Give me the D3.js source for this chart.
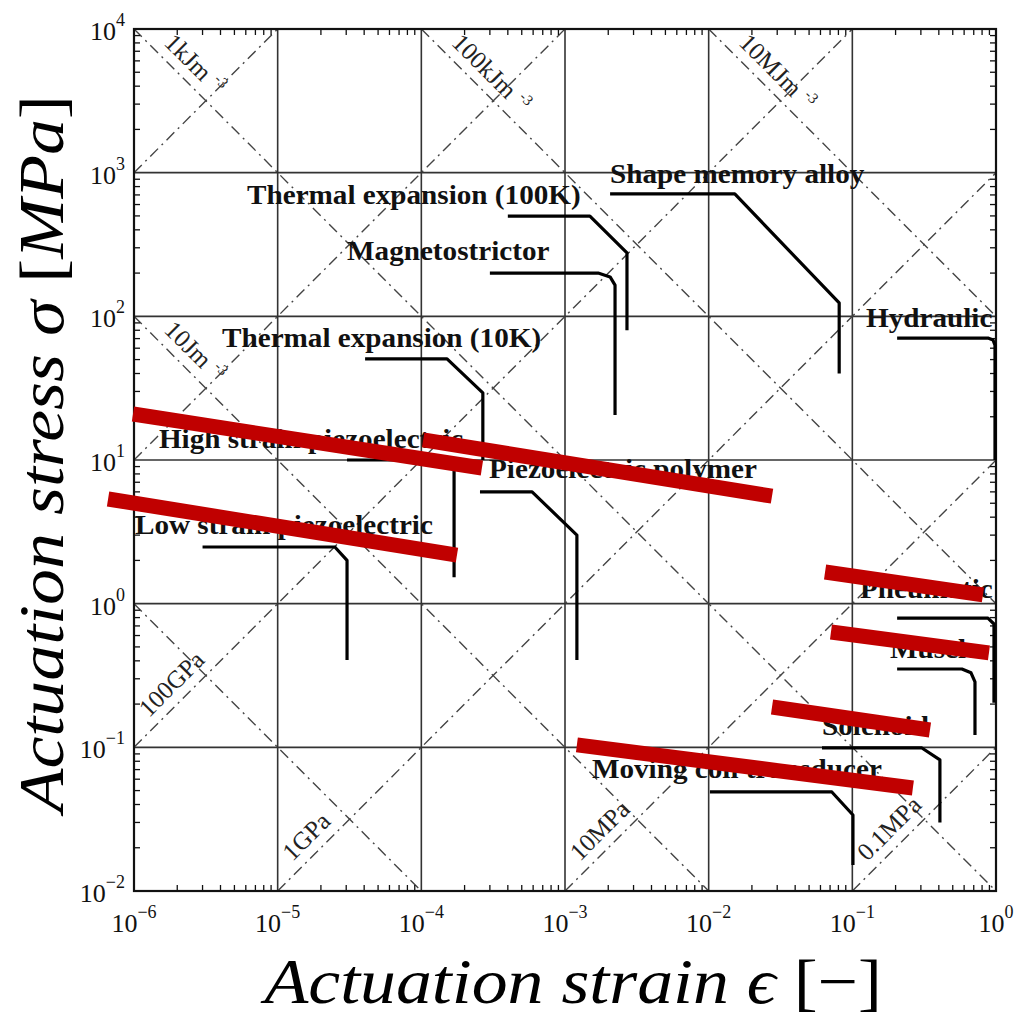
<!DOCTYPE html>
<html><head><meta charset="utf-8">
<script src="https://cdn.jsdelivr.net/npm/d3@7/dist/d3.min.js"></script>
<style>body{margin:0;background:#fff}svg{display:block}</style>
</head><body>
<svg id="chart" width="1015" height="1022"></svg>
<script>
// ---------- data ----------
const xDomain = [1e-6, 1];
const yDomain = [1e-2, 1e4];
const xTickExponents = [-6, -5, -4, -3, -2, -1, 0];
const yTickExponents = [-2, -1, 0, 1, 2, 3, 4];

const actuatorNames = [
  "Thermal expansion (100K)", "Shape memory alloy", "Magnetostrictor", "Hydraulic",
  "Thermal expansion (10K)", "High strain piezoelectric", "Low strain piezoelectric",
  "Piezoelectric polymer", "Pneumatic", "Muscle", "Solenoid", "Moving coil transducer"
];
// each curve: [strain, stress(MPa)]
const actuatorCurves = [
  [[4.0e-4, 499], [1.49e-3, 499], [2.7e-3, 276], [2.7e-3, 80]],
  [[2.06e-3, 711], [1.52e-2, 711], [0.081, 124], [0.081, 40]],
  [[3.0e-4, 200], [1.7e-3, 200], [2.06e-3, 188], [2.23e-3, 165], [2.23e-3, 20.6]],
  [[0.205, 70.6], [0.879, 70.6], [0.953, 68.4], [0.984, 63], [0.984, 10]],
  [[4.06e-5, 50.5], [1.51e-4, 50.5], [2.68e-4, 29.3], [2.68e-4, 10]],
  [[3.04e-5, 10], [1.49e-4, 10], [1.69e-4, 8.8], [1.69e-4, 1.53]],
  [[3.0e-6, 2.48], [2.5e-5, 2.48], [3.04e-5, 2.0], [3.04e-5, 0.405]],
  [[2.56e-4, 6.0], [5.9e-4, 6.0], [1.21e-3, 3.0], [1.21e-3, 0.405]],
  [[0.205, 0.794], [0.879, 0.794], [0.968, 0.722], [0.968, 0.204]],
  [[0.205, 0.351], [0.579, 0.351], [0.670, 0.330], [0.714, 0.285], [0.714, 0.122]],
  [[0.0615, 0.099], [0.305, 0.099], [0.407, 0.0817], [0.407, 0.030]],
  [[0.0102, 0.0489], [0.072, 0.0489], [0.101, 0.0338], [0.101, 0.0152]]
];
// label anchors in data space [strain, stress]
const actuatorLabelAnchors = [
  [6.12e-6, 605], [2.06e-3, 847], [3.04e-5, 247], [0.1245, 84.3],
  [4.1e-6, 61.2], [1.49e-6, 12.1], [1.016e-6, 3.06], [2.96e-4, 7.5],
  [0.113, 1.09], [0.183, 0.419], [0.0615, 0.122], [1.54e-3, 0.0612]
];

// constant energy density lines: sigma*epsilon (MPa)
const energyProducts = [1e-6, 1e-4, 1e-2, 1, 1e2];
const energyLabels = ["", "10Jm", "1kJm", "100kJm", "10MJm"];
// constant modulus lines: sigma/epsilon (MPa)
const modulusRatios = [1e9, 1e7, 1e5, 1e3, 1e1, 1e-1];
const modulusLabels = ["", "", "100GPa", "1GPa", "10MPa", "0.1MPa"];

// red overlay bars [[strain, stress],[strain, stress]]
const overlayBars = [
  [[0.984e-6, 20.9], [2.64e-4, 8.8]],
  [[1.03e-4, 13.8], [0.0276, 5.6]],
  [[6.6e-7, 5.35], [1.77e-4, 2.18]],
  [[0.0646, 1.66], [0.811, 1.15]],
  [[0.071, 0.635], [0.893, 0.454]],
  [[0.0276, 0.191], [0.347, 0.132]],
  [[1.21e-3, 0.104], [0.264, 0.0521]]
];

const xTitle = "Actuation strain ϵ ";
const yTitle = "Actuation stress σ ";

// ---------- layout ----------
const W = 1015, H = 1022;
const margin = {left: 134, top: 29, right: W - 996, bottom: H - 891};
const svg = d3.select("#chart");
const x = d3.scaleLog().domain(xDomain).range([margin.left, W - margin.right]);
const y = d3.scaleLog().domain(yDomain).range([H - margin.bottom, margin.top]);
const serif = "'Liberation Serif','Times New Roman',serif";

svg.append("defs").append("clipPath").attr("id", "plotclip")
  .append("rect").attr("x", x.range()[0]).attr("y", y.range()[1])
  .attr("width", x.range()[1] - x.range()[0]).attr("height", y.range()[0] - y.range()[1]);

const plot = svg.append("g");

// grid lines
plot.append("g").selectAll("line").data(xTickExponents.slice(1, -1)).join("line")
  .attr("x1", d => x(Math.pow(10, d))).attr("x2", d => x(Math.pow(10, d)))
  .attr("y1", y.range()[0]).attr("y2", y.range()[1])
  .attr("stroke", "#333").attr("stroke-width", 1.6);
plot.append("g").selectAll("line").data(yTickExponents.slice(1, -1)).join("line")
  .attr("y1", d => y(Math.pow(10, d))).attr("y2", d => y(Math.pow(10, d)))
  .attr("x1", x.range()[0]).attr("x2", x.range()[1])
  .attr("stroke", "#333").attr("stroke-width", 1.6);

// diagonals
const dash = "11,5,2,5";
const diag = plot.append("g").attr("clip-path", "url(#plotclip)");
energyProducts.forEach(c => {
  const x0 = Math.max(xDomain[0], c / yDomain[1]);
  const x1 = Math.min(xDomain[1], c / yDomain[0]);
  diag.append("line")
    .attr("x1", x(x0)).attr("y1", y(c / x0)).attr("x2", x(x1)).attr("y2", y(c / x1))
    .attr("stroke", "#444").attr("stroke-width", 1.4).attr("stroke-dasharray", dash);
});
modulusRatios.forEach(m => {
  const x0 = Math.max(xDomain[0], yDomain[0] / m);
  const x1 = Math.min(xDomain[1], yDomain[1] / m);
  diag.append("line")
    .attr("x1", x(x0)).attr("y1", y(m * x0)).attr("x2", x(x1)).attr("y2", y(m * x1))
    .attr("stroke", "#444").attr("stroke-width", 1.4).attr("stroke-dasharray", dash);
});

// diagonal labels
const r2 = Math.SQRT1_2;
energyProducts.forEach((c, i) => {
  if (!energyLabels[i]) return;
  const x0 = Math.max(xDomain[0], c / yDomain[1]);
  const sx = x(x0) + 22 + 10 * r2, sy = y(c / x0) + 22 - 10 * r2;
  const t = plot.append("text").attr("transform", `translate(${sx},${sy}) rotate(45)`)
    .attr("font-family", serif).attr("font-size", 25).attr("fill", "#222");
  t.append("tspan").text(energyLabels[i]);
  t.append("tspan").attr("dx", 7).attr("dy", -10).attr("font-size", 15).text("-3");
});
modulusRatios.forEach((m, i) => {
  if (!modulusLabels[i]) return;
  const x0 = Math.max(xDomain[0], yDomain[0] / m);
  const sx = x(x0) + 22 - 10 * r2, sy = y(m * x0) - 22 - 10 * r2;
  plot.append("text").attr("transform", `translate(${sx},${sy}) rotate(-45)`)
    .attr("font-family", serif).attr("font-size", 25).attr("fill", "#222")
    .text(modulusLabels[i]);
});

// minor ticks
const minorX = [], minorY = [];
for (let e = -6; e < 0; e++) for (let k = 2; k <= 9; k++) minorX.push(k * Math.pow(10, e));
for (let e = -2; e < 4; e++) for (let k = 2; k <= 9; k++) minorY.push(k * Math.pow(10, e));
const tl = 6;
const ticks = plot.append("g").attr("stroke", "#111").attr("stroke-width", 1.3);
minorX.forEach(v => {
  ticks.append("line").attr("x1", x(v)).attr("x2", x(v)).attr("y1", y.range()[0]).attr("y2", y.range()[0] - tl);
  ticks.append("line").attr("x1", x(v)).attr("x2", x(v)).attr("y1", y.range()[1]).attr("y2", y.range()[1] + tl);
});
minorY.forEach(v => {
  ticks.append("line").attr("y1", y(v)).attr("y2", y(v)).attr("x1", x.range()[0]).attr("x2", x.range()[0] + tl);
  ticks.append("line").attr("y1", y(v)).attr("y2", y(v)).attr("x1", x.range()[1]).attr("x2", x.range()[1] - tl);
});

// frame
plot.append("rect").attr("x", x.range()[0]).attr("y", y.range()[1])
  .attr("width", x.range()[1] - x.range()[0]).attr("height", y.range()[0] - y.range()[1])
  .attr("fill", "none").attr("stroke", "#111").attr("stroke-width", 2.2);

// actuator curves
const line = d3.line().x(d => x(d[0])).y(d => y(d[1]));
plot.append("g").selectAll("path").data(actuatorCurves).join("path")
  .attr("d", line).attr("fill", "none").attr("stroke", "#000")
  .attr("stroke-width", 3.2).attr("stroke-linejoin", "round");

// actuator labels (slightly widened to match the original face)
plot.append("g").selectAll("text").data(actuatorNames).join("text")
  .attr("transform", (d, i) =>
    `translate(${x(actuatorLabelAnchors[i][0])},${y(actuatorLabelAnchors[i][1])}) scale(1.08,1)`)
  .attr("font-family", serif).attr("font-weight", "bold").attr("font-size", 27)
  .attr("fill", "#111").text(d => d);

// red overlay bars
plot.append("g").selectAll("line").data(overlayBars).join("line")
  .attr("x1", d => x(d[0][0])).attr("y1", d => y(d[0][1]))
  .attr("x2", d => x(d[1][0])).attr("y2", d => y(d[1][1]))
  .attr("stroke", "#c00000").attr("stroke-width", 15);

// tick labels
const minus = e => (e < 0 ? "\u2212" + Math.abs(e) : String(e));
xTickExponents.forEach(e => {
  const t = svg.append("text").attr("x", x(Math.pow(10, e))).attr("y", 932)
    .attr("text-anchor", "middle").attr("font-family", serif).attr("font-size", 26).attr("fill", "#111");
  t.append("tspan").text("10");
  t.append("tspan").attr("dy", -14).attr("font-size", 18).text(minus(e));
});
yTickExponents.forEach(e => {
  const t = svg.append("text").attr("x", 125).attr("y", y(Math.pow(10, e)) + 11)
    .attr("text-anchor", "end").attr("font-family", serif).attr("font-size", 26).attr("fill", "#111");
  t.append("tspan").text("10");
  t.append("tspan").attr("dy", -14).attr("font-size", 18).text(minus(e));
});

// axis titles
const xt = svg.append("text").attr("font-family", serif).attr("font-size", 64).attr("fill", "#000");
xt.append("tspan").attr("font-style", "italic").text(xTitle);
xt.append("tspan").text("[\u2212]");
{
  const bb = xt.node().getBBox();
  const s = 622 / bb.width;
  xt.attr("transform", `translate(${260 - bb.x * s},1003) scale(${s},1)`);
}
const yt = svg.append("text").attr("font-family", serif).attr("font-size", 64).attr("fill", "#000");
yt.append("tspan").attr("font-style", "italic").text(yTitle);
yt.append("tspan").text("[");
yt.append("tspan").attr("font-style", "italic").text("MPa");
yt.append("tspan").text("]");
{
  const bb = yt.node().getBBox();
  const s = 722 / bb.width;
  yt.attr("transform", `translate(63,${817 + bb.x * s}) rotate(-90) scale(${s},1)`);
}
</script>
</body></html>
